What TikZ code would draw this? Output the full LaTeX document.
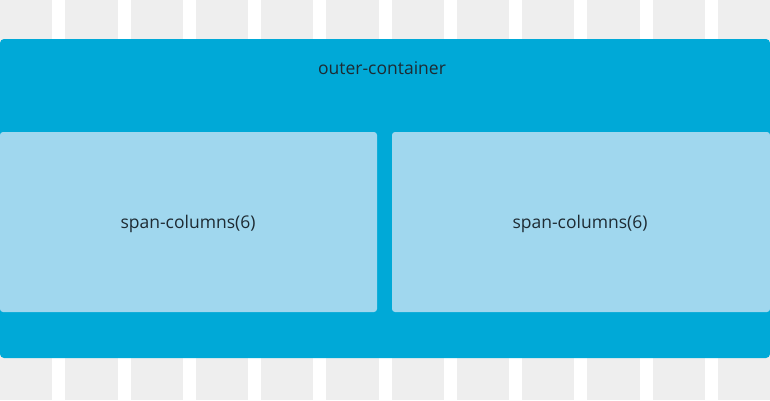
\documentclass[tikz,border=0pt]{standalone}
\usepackage{fontspec}
\setmainfont{Open Sans}
\definecolor{stripe}{HTML}{EEEEEE}
\definecolor{outerblue}{HTML}{00A9D7}
\definecolor{innerblue}{HTML}{A0D7EE}
\definecolor{txt}{HTML}{1E2B33}
\tikzset{
  col/.style={fill=stripe,draw=none},
  outerbox/.style={fill=outerblue,draw=none,rounded corners=4pt},
  innerbox/.style={fill=innerblue,draw=none,rounded corners=3pt},
  lbl/.style={text=txt,font=\fontsize{17.5}{20}\selectfont,inner sep=0pt}
}
\begin{document}
\begin{tikzpicture}[x=1pt,y=-1pt]
\useasboundingbox (0,0) rectangle (770,400);
\fill[white] (0,0) rectangle (770,400);
\foreach \i in {0,...,11}{
  \fill[col] ({\i*65.25},0) rectangle ({\i*65.25+52.25},400);
}
\fill[outerbox] (0,39) rectangle (770,358);
\fill[innerbox] (0,132) rectangle (377,312);
\fill[innerbox] (392,132) rectangle (770,312);
\node[lbl] (outer) at (382,68.5) {outer-container};
\node[lbl] (left) at (188,223.5) {span-columns(6)};
\node[lbl] (right) at (580,223.5) {span-columns(6)};
\end{tikzpicture}
\end{document}
